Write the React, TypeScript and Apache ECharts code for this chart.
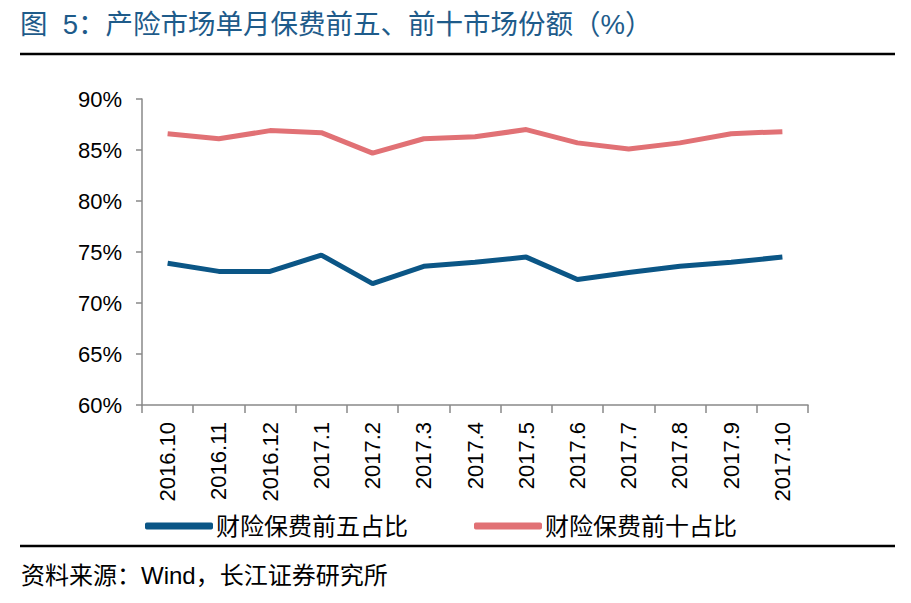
import React, { useEffect, useRef } from "react";
import * as echarts from "echarts";

const categories = [
  "2016.10", "2016.11", "2016.12", "2017.1", "2017.2", "2017.3", "2017.4",
  "2017.5", "2017.6", "2017.7", "2017.8", "2017.9", "2017.10",
];
const top5Share = [73.9, 73.1, 73.1, 74.7, 71.9, 73.6, 74.0, 74.5, 72.3, 73.0, 73.6, 74.0, 74.5];
const top10Share = [86.6, 86.1, 86.9, 86.7, 84.7, 86.1, 86.3, 87.0, 85.7, 85.1, 85.7, 86.6, 86.8];
const seriesNames = ["财险保费前五占比", "财险保费前十占比"];
const titleText = "图  5：产险市场单月保费前五、前十市场份额（%）";
const sourceText = "资料来源：Wind，长江证券研究所";

const FONT = "'Liberation Sans', Arial, 'Noto Sans CJK SC', sans-serif";

export default function App() {
  const ref = useRef<HTMLDivElement>(null);
  useEffect(() => {
    if (!ref.current) return;
    const chart = echarts.init(ref.current, null, { renderer: "svg" });
    chart.setOption({
      animation: false,
      backgroundColor: "#ffffff",
      textStyle: { fontFamily: FONT },
      grid: { left: 142, right: 103, top: 99, bottom: 198, containLabel: false },
      legend: {
        left: 140,
        top: 509,
        itemWidth: 68,
        itemHeight: 7,
        itemGap: 66,
        icon: "roundRect",
        textStyle: { fontSize: 24, color: "#000", fontFamily: FONT, padding: [0, 0, 0, -2] },
        data: seriesNames,
      },
      xAxis: {
        type: "category",
        data: categories,
        boundaryGap: true,
        axisLine: { lineStyle: { color: "#898989", width: 1.5 } },
        axisTick: { show: true, length: 8, lineStyle: { color: "#898989", width: 1.5 } },
        axisLabel: {
          rotate: 90,
          margin: 17,
          fontSize: 22,
          color: "#000",
          fontFamily: FONT,
          interval: 0,
        },
      },
      yAxis: {
        type: "value",
        min: 60,
        max: 90,
        interval: 5,
        splitLine: { show: false },
        axisLine: { show: true, lineStyle: { color: "#898989", width: 1.5 } },
        axisTick: { show: true, length: 6, lineStyle: { color: "#898989", width: 1.5 } },
        axisLabel: { formatter: "{value}%", margin: 20, fontSize: 22, color: "#000", fontFamily: FONT },
      },
      series: [
        {
          name: seriesNames[0],
          type: "line",
          data: top5Share,
          symbol: "none",
          lineStyle: { color: "#0B5686", width: 5 },
          itemStyle: { color: "#0B5686" },
        },
        {
          name: seriesNames[1],
          type: "line",
          data: top10Share,
          symbol: "none",
          lineStyle: { color: "#E17175", width: 5 },
          itemStyle: { color: "#E17175" },
        },
      ],
      graphic: [
        {
          type: "text",
          left: 20,
          top: 11,
          style: { text: titleText, fontSize: 27.5, fill: "#1E5B8A", fontFamily: FONT },
        },
        {
          type: "line",
          shape: { x1: 20, y1: 54, x2: 895, y2: 54 },
          style: { stroke: "#000", lineWidth: 2.5 },
        },
        {
          type: "line",
          shape: { x1: 20, y1: 546, x2: 895, y2: 546 },
          style: { stroke: "#000", lineWidth: 2.5 },
        },
        {
          type: "text",
          left: 21,
          top: 563,
          style: { text: sourceText, fontSize: 24, fill: "#000", fontFamily: FONT },
        },
      ],
    });
    return () => chart.dispose();
  }, []);
  return (
    <div
      ref={ref}
      style={{ position: "fixed", left: 0, top: 0, width: 911, height: 603 }}
    />
  );
}
